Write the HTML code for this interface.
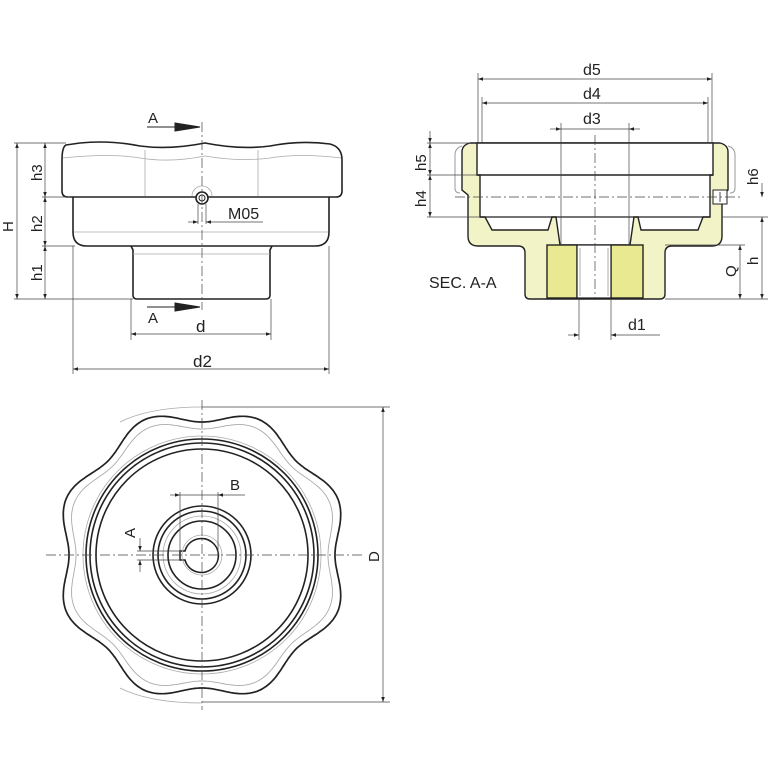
<!DOCTYPE html>
<html><head><meta charset="utf-8"><style>
html,body{margin:0;padding:0;background:#fff}
svg{display:block}
text{font-family:"Liberation Sans",sans-serif;fill:#222}
</style></head><body>
<svg id="s" width="768" height="768" viewBox="0 0 768 768" xmlns="http://www.w3.org/2000/svg">
<defs>
<marker id="ar" viewBox="0 0 10 10" refX="10" refY="5" markerWidth="7" markerHeight="5" orient="auto-start-reverse" markerUnits="userSpaceOnUse"><path d="M0,1.5 L10,5 L0,8.5z" fill="#222"/></marker>
</defs>
<g fill="none" stroke="#222" stroke-width="1.6">
<path d="M66,145 Q62,147 62,160 L62,191 Q62,197 68,197 L336,197 Q342,197 342,191 L342,160 Q342,147 330,144 Q300,140 270,146 Q240,150 205,143 Q170,150 140,146 Q110,140 80,143 Z" fill="#fff"/>
<path d="M73,197 L73,232 Q73,246 87,246 L315,246 Q329,246 329,232 L329,197"/>
<path d="M131,246 L133,250 L133,295 Q133,299 137,299 L266,299 Q270,299 270,295 L270,250 L272,246"/>
<circle cx="202" cy="198" r="6" fill="#fff"/>
<circle cx="202" cy="198" r="3" stroke-width="1"/>
</g>
<g fill="none" stroke="#aaa" stroke-width="0.8">
<path d="M63,158 Q110,153 140,158 Q170,163 205,156 Q240,162 270,158 Q300,153 341,158"/>
<line x1="145" y1="150" x2="145" y2="196"/><line x1="258" y1="150" x2="258" y2="196"/>
<line x1="74" y1="232" x2="328" y2="232"/><line x1="133" y1="254" x2="270" y2="254"/>
<path d="M192,196 A10,10 0 0 1 212,196"/>
</g>
<g stroke="#444" stroke-width="0.7" fill="none">
<line x1="202" y1="122" x2="202" y2="310" stroke-dasharray="10,3,2,3"/>
<line x1="14" y1="143" x2="66" y2="143"/><line x1="42" y1="197" x2="70" y2="197"/><line x1="42" y1="246" x2="75" y2="246"/><line x1="14" y1="299" x2="133" y2="299"/>
<line x1="17" y1="143" x2="17" y2="299" marker-start="url(#ar)" marker-end="url(#ar)"/>
<line x1="45" y1="143" x2="45" y2="197" marker-start="url(#ar)" marker-end="url(#ar)"/>
<line x1="45" y1="197" x2="45" y2="246" marker-start="url(#ar)" marker-end="url(#ar)"/>
<line x1="45" y1="246" x2="45" y2="299" marker-start="url(#ar)" marker-end="url(#ar)"/>
<line x1="131" y1="299" x2="131" y2="340"/><line x1="271" y1="299" x2="271" y2="340"/>
<line x1="131" y1="334" x2="271" y2="334" marker-start="url(#ar)" marker-end="url(#ar)"/>
<line x1="73" y1="246" x2="73" y2="374"/><line x1="329" y1="246" x2="329" y2="374"/>
<line x1="73" y1="369" x2="329" y2="369" marker-start="url(#ar)" marker-end="url(#ar)"/>
<line x1="198" y1="204" x2="198" y2="224"/><line x1="206" y1="204" x2="206" y2="224"/>
<line x1="188" y1="222" x2="198" y2="222" marker-end="url(#ar)"/><line x1="263" y1="222" x2="206" y2="222" marker-end="url(#ar)"/>
</g>
<g stroke="#222" stroke-width="1">
<line x1="147" y1="127" x2="175" y2="127"/><path d="M175,123 L200,127 L175,131z" fill="#222"/>
<line x1="147" y1="307" x2="175" y2="307"/><path d="M175,303 L200,307 L175,311z" fill="#222"/>
</g>
<text x="148" y="123" font-size="15">A</text>
<text x="148" y="323" font-size="15">A</text>
<text x="228" y="219" font-size="16">M05</text>
<text x="196" y="332" font-size="17">d</text>
<text x="193" y="367" font-size="17">d2</text>
<text font-size="15" transform="translate(13,232) rotate(-90)">H</text>
<text font-size="15" transform="translate(42,181) rotate(-90)">h3</text>
<text font-size="15" transform="translate(42,232) rotate(-90)">h2</text>
<text font-size="15" transform="translate(42,281) rotate(-90)">h1</text>

<path d="M470,143 L720,143 Q728,145 728,152 L728,190 L722,195 L722,236 Q722,246 712,246 L672,246 Q665,246 665,253 L665,294 Q665,299 660,299 L530,299 Q525,299 525,294 L525,253 Q525,246 518,246 L478,246 Q468,246 468,236 L468,195 L462,190 L462,152 Q462,145 470,143 Z" fill="#f3f3c8" stroke="#222" stroke-width="1.4"/>
<path d="M455,155 Q455,148 462,146 M455,155 L455,188 Q455,193 460,193" fill="none" stroke="#999" stroke-width="1"/>
<path d="M735,155 Q735,148 728,146 M735,155 L735,188 Q735,193 730,193" fill="none" stroke="#999" stroke-width="1"/>
<path d="M477,143 L713,143 L713,175 L710,175 L710,217 L703,217 L698,230 L641,230 L638,217 L634,217 L630,245 L560,245 L556,217 L552,217 L548,230 L492,230 L485,217 L480,217 L480,175 L477,175 Z" fill="#fff" stroke="#222" stroke-width="1.4"/>
<line x1="477" y1="175" x2="713" y2="175" stroke="#222" stroke-width="1.4"/>
<line x1="480" y1="217" x2="710" y2="217" stroke="#222" stroke-width="1.2"/>
<rect x="547" y="245" width="30" height="53" fill="#e9e992" stroke="#222" stroke-width="1.4"/>
<rect x="611" y="245" width="32" height="53" fill="#e9e992" stroke="#222" stroke-width="1.4"/>
<rect x="577" y="245" width="34" height="53" fill="#fff" stroke="#222" stroke-width="1.2"/>
<line x1="580" y1="248" x2="580" y2="296" stroke="#999" stroke-width="0.8"/><line x1="608" y1="248" x2="608" y2="296" stroke="#999" stroke-width="0.8"/>
<rect x="713" y="190" width="14" height="14" fill="#fff" stroke="#222" stroke-width="1"/>
<line x1="720" y1="192" x2="720" y2="202" stroke="#222" stroke-width="0.8"/>
<g stroke="#444" stroke-width="0.7" fill="none">
<line x1="595" y1="135" x2="595" y2="300" stroke-dasharray="10,3,2,3"/>
<line x1="455" y1="197" x2="740" y2="197" stroke-dasharray="10,3,2,3"/>
<line x1="478" y1="73" x2="478" y2="143"/><line x1="712" y1="73" x2="712" y2="143"/>
<line x1="478" y1="79" x2="712" y2="79" marker-start="url(#ar)" marker-end="url(#ar)"/>
<line x1="482" y1="97" x2="482" y2="143"/><line x1="708" y1="97" x2="708" y2="143"/>
<line x1="482" y1="103" x2="708" y2="103" marker-start="url(#ar)" marker-end="url(#ar)"/>
<line x1="561" y1="123" x2="561" y2="245"/><line x1="629" y1="123" x2="629" y2="245"/>
<line x1="550" y1="129" x2="561" y2="129" marker-end="url(#ar)"/><line x1="640" y1="129" x2="629" y2="129" marker-end="url(#ar)"/><line x1="561" y1="129" x2="629" y2="129"/>
<line x1="427" y1="143" x2="470" y2="143"/><line x1="427" y1="175" x2="478" y2="175"/><line x1="427" y1="217" x2="480" y2="217"/>
<line x1="430" y1="131" x2="430" y2="143" marker-end="url(#ar)"/>
<line x1="430" y1="143" x2="430" y2="175" marker-start="url(#ar)" marker-end="url(#ar)"/>
<line x1="430" y1="175" x2="430" y2="217" marker-start="url(#ar)" marker-end="url(#ar)"/>
<line x1="722" y1="217" x2="768" y2="217"/><line x1="665" y1="299" x2="768" y2="299"/><line x1="665" y1="245" x2="745" y2="245"/>
<line x1="762" y1="183" x2="762" y2="197" marker-end="url(#ar)"/>
<line x1="762" y1="217" x2="762" y2="299" marker-start="url(#ar)" marker-end="url(#ar)"/>
<line x1="740" y1="245" x2="740" y2="299" marker-start="url(#ar)" marker-end="url(#ar)"/>
<line x1="579" y1="299" x2="579" y2="340"/><line x1="611" y1="299" x2="611" y2="340"/>
<line x1="568" y1="335" x2="579" y2="335" marker-end="url(#ar)"/><line x1="660" y1="335" x2="611" y2="335" marker-end="url(#ar)"/>
</g>
<text x="583" y="75" font-size="16">d5</text>
<text x="583" y="99" font-size="16">d4</text>
<text x="583" y="124" font-size="16">d3</text>
<text x="628" y="330" font-size="16">d1</text>
<text x="429" y="288" font-size="16">SEC. A-A</text>
<text font-size="15" transform="translate(426,171) rotate(-90)">h5</text>
<text font-size="15" transform="translate(426,207) rotate(-90)">h4</text>
<text font-size="15" transform="translate(758,185) rotate(-90)">h6</text>
<text font-size="15" transform="translate(758,265) rotate(-90)">h</text>
<text font-size="15" transform="translate(736,277) rotate(-90)">Q</text>

<path id="wav" fill="none" stroke="#222" stroke-width="1.7"/>
<path id="wav2" fill="none" stroke="#aaa" stroke-width="0.9"/>
<g fill="none" stroke="#222" stroke-width="1.6">
<circle cx="202" cy="555" r="116"/><circle cx="202" cy="555" r="112"/><circle cx="202" cy="555" r="106"/>
<circle cx="202" cy="555" r="49"/><circle cx="202" cy="555" r="44"/><circle cx="202" cy="555" r="34"/>
<path d="M185,551 L180,551 L180,560 L185,560 A17,17 0 1 0 185,551 Z"/>
</g>
<g fill="none" stroke="#aaa" stroke-width="0.8">
<circle cx="202" cy="555" r="119"/><circle cx="202" cy="555" r="39"/><circle cx="202" cy="555" r="20"/>
<path d="M202,407 Q150,407 120,422"/><path d="M202,703 Q150,703 120,688"/>
</g>
<g stroke="#444" stroke-width="0.7" fill="none">
<line x1="46" y1="555" x2="365" y2="555" stroke-dasharray="10,3,2,3"/>
<line x1="202" y1="400" x2="202" y2="710" stroke-dasharray="10,3,2,3"/>
<line x1="202" y1="407" x2="390" y2="407"/><line x1="202" y1="702" x2="390" y2="702"/>
<line x1="383" y1="407" x2="383" y2="702" marker-start="url(#ar)" marker-end="url(#ar)"/>
<line x1="180" y1="492" x2="180" y2="560"/><line x1="218" y1="492" x2="218" y2="555"/>
<line x1="170" y1="495" x2="180" y2="495" marker-end="url(#ar)"/><line x1="245" y1="495" x2="218" y2="495" marker-end="url(#ar)"/><line x1="180" y1="495" x2="218" y2="495"/>
<line x1="137" y1="551" x2="180" y2="551"/><line x1="137" y1="560" x2="180" y2="560"/>
<line x1="140" y1="538" x2="140" y2="551" marker-end="url(#ar)"/><line x1="140" y1="572" x2="140" y2="560" marker-end="url(#ar)"/>
</g>
<text x="230" y="490" font-size="15">B</text>
<text font-size="15" transform="translate(135,538) rotate(-90)">A</text>
<text font-size="15" transform="translate(379,562) rotate(-90)">D</text>
</svg>
<script>
function wp2(R,a){var s="";for(var i=0;i<=360;i++){var t=i*Math.PI/180;var r=R-a*Math.cos(8*(t-Math.PI/2));
var x=202+r*Math.cos(t),y=555-r*Math.sin(t);s+=(i?"L":"M")+x.toFixed(1)+","+y.toFixed(1);}return s+"Z";}
document.getElementById("wav").setAttribute("d",wp2(140,7));
document.getElementById("wav2").setAttribute("d",wp2(132,6));
</script>
</body></html>
